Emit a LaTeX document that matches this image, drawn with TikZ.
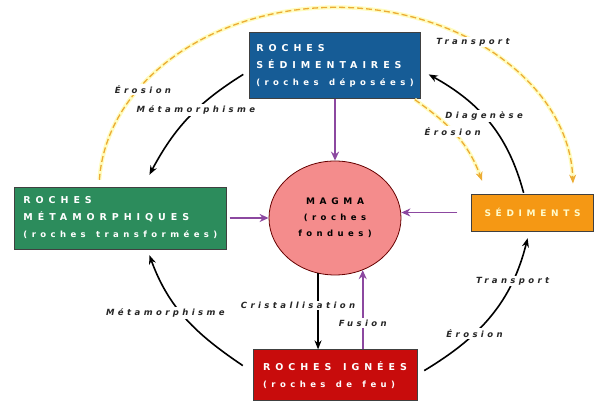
\documentclass[tikz,border=0pt]{standalone}
\usepackage{fontspec}
\setmainfont{DejaVu Sans}
\newfontfamily\boxfont[LetterSpace=52, WordSpace=1.4]{DejaVu Sans}
\newfontfamily\lblfont[LetterSpace=40]{DejaVu Sans}
\usetikzlibrary{shapes,arrows,arrows.meta,positioning,backgrounds}
\definecolor{sedblue}{RGB}{22,92,150}
\definecolor{metagreen}{RGB}{44,140,92}
\definecolor{magmapink}{RGB}{244,140,140}
\definecolor{sedorange}{RGB}{245,152,20}
\definecolor{ignred}{RGB}{200,12,12}
\definecolor{cyclepurple}{RGB}{140,72,160}
\definecolor{dustyellow}{RGB}{236,172,52}
\newcommand\subline[1]{{\fontsize{8.5}{17}\selectfont #1}}
\tikzset{%
	rockbox/.style={rectangle, draw=black!75, thin, text=white, align=left, inner sep=0pt, font=\boxfont\bfseries\fontsize{9.5}{17}\selectfont},
	magmanode/.style={ellipse, draw=black!60!red, thick, fill=magmapink, minimum width=132pt, minimum height=114pt, inner sep=0pt, align=center, font=\boxfont\bfseries\fontsize{9}{16}\selectfont},
	blk/.style={draw=black, line width=1.6pt, -{Stealth[length=9pt, width=7pt]}},
	pur/.style={draw=cyclepurple, line width=1.8pt, -{Stealth[length=9pt, width=8pt]}},
	dust/.style={draw=dustyellow, line width=1.3pt, dash pattern=on 6pt off 3pt, -{Stealth[length=9pt, width=7pt]}, shorten >=1pt,
		preaction={draw=yellow!25, solid, -, line width=4pt, shorten >=6pt}},
	lbl/.style={font=\lblfont\bfseries\itshape\fontsize{8.5}{9}\selectfont, text=black!85, fill=white, inner sep=1.5pt}
}
\begin{document}
\begin{tikzpicture}[x=1pt, y=1pt]
		\useasboundingbox (0,0) rectangle (601,403);
		\node[magmanode] (magma) at (335,185) {MAGMA\\\subline{(roches}\\\subline{fondues)}};
		\node[rockbox, fill=sedblue, minimum width=171pt, minimum height=66pt] (sed) [above=62pt of magma] {ROCHES\\SÉDIMENTAIRES\\\subline{(roches déposées)}};
		\node[rockbox, fill=metagreen, minimum width=212pt, minimum height=62pt] (meta) [left=42pt of magma] {ROCHES\\MÉTAMORPHIQUES\\\subline{(roches transformées)}};
		\node[rockbox, fill=sedorange, text=yellow!20, minimum width=122pt, minimum height=37pt, font=\boxfont\bfseries\fontsize{9}{17}\selectfont] (sedi) [right=70pt of magma, yshift=5.5pt] {SÉDIMENTS};
		\node[rockbox, fill=ignred, minimum width=164pt, minimum height=51pt] (ign) [below=74pt of magma] {ROCHES IGNÉES\\\subline{(roches de feu)}};
		
		% vers le magma
		\draw[pur] (sed) -- (magma);
		\draw[pur, shorten <=3pt] (meta) -- (magma);
		\draw[pur, shorten <=14pt] (sedi.west) -- (sedi.west -| magma.east);
		\draw[pur] (magma.298 |- ign.north) -- node [lbl, pos=0.33] {Fusion} (magma.298);
		\draw[blk] (magma.253) -- node [lbl, pos=0.42, xshift=-20pt] {Cristallisation} (magma.253 |- ign.north);
		
		% le cycle
		\draw[blk] ([xshift=-6pt, yshift=-9pt]sed.west) to [out=212, in=62] node [lbl, pos=0.42] {Métamorphisme} ([xshift=29pt, yshift=12pt]meta.north);
		\draw[blk] ([xshift=-10pt, yshift=9.5pt]ign.west) to [out=146, in=-70] node [lbl, pos=0.55, xshift=-16pt] {Métamorphisme} ([xshift=29pt, yshift=-6pt]meta.south);
		\draw[blk] ([xshift=7pt, yshift=4.5pt]ign.east) to [out=31, in=-104] node [lbl, pos=0.35] {Érosion} node [lbl, pos=0.75] {Transport} ([xshift=-5pt, yshift=-7pt]sedi.south);
		\draw[blk] ([xshift=-9pt, yshift=1pt]sedi.north) to [out=105, in=-29] node [lbl, pos=0.56] {Diagenèse} ([xshift=8pt, yshift=-9pt]sed.east);
		
		\draw[dust] ([xshift=-6pt, yshift=-1pt]sed.south east) to [out=-35, in=110] node [lbl, pos=0.45] {Érosion} ([xshift=11pt, yshift=12pt]sedi.north west);
		\draw[dust] ([xshift=-21pt, yshift=7pt]meta.north) arc [start angle=177, end angle=1.5, x radius=237pt, y radius=182pt];
		\node[lbl] (erosarc) at (143,313) {Érosion};
		\node[lbl] (transarc) at (473,361) {Transport};
	\end{tikzpicture}
\end{document}
